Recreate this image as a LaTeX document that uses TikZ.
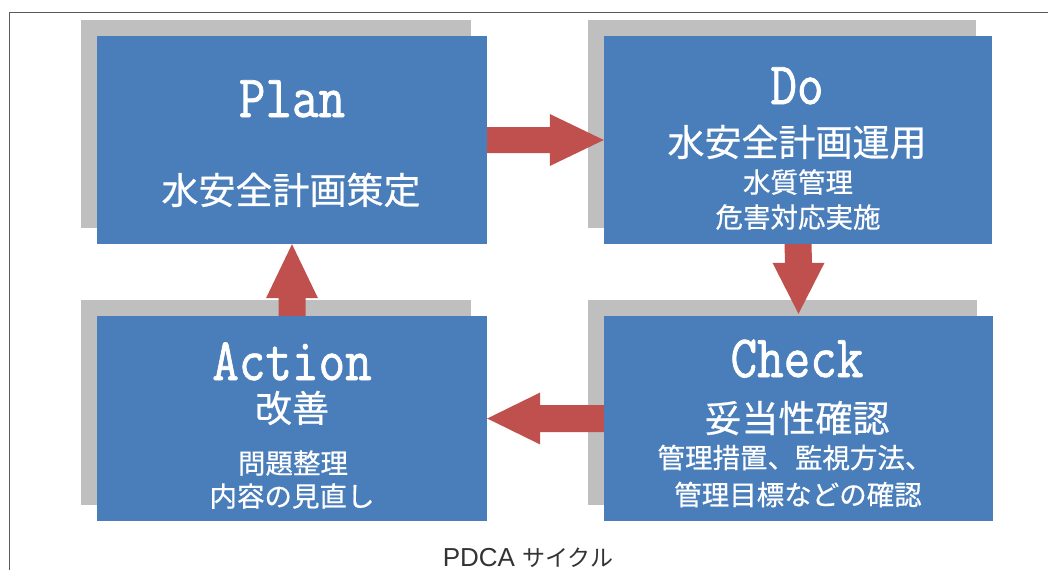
\documentclass[tikz,border=0pt]{standalone}
\usepackage{fontspec}
\usetikzlibrary{calc,backgrounds}
\newfontfamily\jpfont[FakeBold=0.6]{Noto Sans CJK JP}
\newfontfamily\capjpfont{Noto Sans CJK JP}
\newfontfamily\ttlfont[FakeStretch=0.86,FakeBold=1.2]{Latin Modern Mono}
\newfontfamily\capfont{Liberation Sans}
\definecolor{boxblue}{RGB}{74,126,187}
\definecolor{shadowgray}{RGB}{191,191,191}
\definecolor{arrred}{RGB}{192,80,77}
\definecolor{captxt}{RGB}{51,51,51}
\definecolor{framegray}{RGB}{90,90,90}
\tikzset{
  bluebox/.style={rectangle, fill=boxblue, draw=none, inner sep=0pt},
  shadowbox/.style={fill=shadowgray},
  blockarr/.style={fill=arrred, draw=none},
  ttl/.style={text=white, font=\ttlfont\fontsize{60}{60}\selectfont, anchor=base, inner sep=0pt, text depth=0pt},
  bigjp/.style={text=white, font=\jpfont\fontsize{37}{37}\selectfont, anchor=base, inner sep=0pt, text height=0.88em, text depth=0.12em},
  smalljp/.style={text=white, font=\jpfont\fontsize{27.5}{27.5}\selectfont, anchor=base, inner sep=0pt, text height=0.88em, text depth=0.12em},
}
\begin{document}
\begin{tikzpicture}[x=1pt,y=-1pt]
\useasboundingbox (0,0) rectangle (1048,570);

% boxes
\node[bluebox, minimum width=390pt, minimum height=208pt] (plan) at (292,140) {};
\node[bluebox, minimum width=388pt, minimum height=208pt] (do) at (798,140) {};
\node[bluebox, minimum width=390pt, minimum height=205pt] (action) at (292,418.5) {};
\node[bluebox, minimum width=389pt, minimum height=205pt] (check) at (798.5,418.5) {};

% background, frame and shadows
\begin{scope}[on background layer]
\fill[white] (0,0) rectangle (1048,570);
\draw[framegray, line width=1pt] (9.5,570) -- (9.5,12) -- (1048,12);
\foreach \b in {plan,do,action,check}{
  \fill[shadowbox] ($(\b.south west)+(-16,-16)$) rectangle ($(\b.north east)+(-16,-16)$);
}
\end{scope}

% arrows
% Plan -> Do (right)
\fill[blockarr] ($(plan.east)+(0,-13)$) -- ($(do.west)+(-54,-13)$) -- ($(do.west)+(-54,-26)$)
  -- (do.west) -- ($(do.west)+(-54,26)$) -- ($(do.west)+(-54,13)$) -- ($(plan.east)+(0,13)$) -- cycle;
% Do -> Check (down)
\fill[blockarr] ($(do.south)+(-13.5,0)$) -- ($(check.north)+(-13.5,-53)$) -- ($(check.north)+(-26,-53)$)
  -- ($(check.north)+(0,-2)$) -- ($(check.north)+(26,-53)$) -- ($(check.north)+(13.5,-53)$) -- ($(do.south)+(13.5,0)$) -- cycle;
% Check -> Action (left)
\fill[blockarr] ($(check.west)+(0,-13.5)$) -- ($(action.east)+(53,-13.5)$) -- ($(action.east)+(53,-26)$)
  -- (action.east) -- ($(action.east)+(53,26)$) -- ($(action.east)+(53,13.5)$) -- ($(check.west)+(0,13.5)$) -- cycle;
% Action -> Plan (up)
\fill[blockarr] ($(action.north)+(-13.5,0)$) -- ($(plan.south)+(-13.5,54)$) -- ($(plan.south)+(-26,54)$)
  -- (plan.south) -- ($(plan.south)+(26,54)$) -- ($(plan.south)+(13.5,54)$) -- ($(action.north)+(13.5,0)$) -- cycle;

% texts
\node[ttl] (plant) at (292,117) {Plan};
\node[bigjp] (plans) at (291,204) {水安全計画策定};

\node[ttl] (dot) at (797,104) {Do};
\node[bigjp] (dos1) at (797,156) {水安全計画運用};
\node[smalljp] (dos2) at (798,192.5) {水質管理};
\node[smalljp] (dos3) at (798,227.5) {危害対応実施};

\node[ttl] (checkt) at (797,377) {Check};
\node[bigjp] (checks1) at (797,432) {妥当性確認};
\node[smalljp] (checks2) at (795,468) {管理措置、監視方法、};
\node[smalljp] (checks3) at (798,505) {管理目標などの確認};

\node[ttl] (actiont) at (292,380) {Action};
\node[bigjp] (actions1) at (292,422) {改善};
\node[smalljp] (actions2) at (293,473.5) {問題整理};
\node[smalljp] (actions3) at (292,506.5) {内容の見直し};

\node[anchor=base, inner sep=0pt, text=captxt] (caption) at (528,566)
  {\capfont\fontsize{26}{26}\selectfont PDCA \capjpfont\fontsize{23}{23}\selectfont サイクル};
\end{tikzpicture}
\end{document}
